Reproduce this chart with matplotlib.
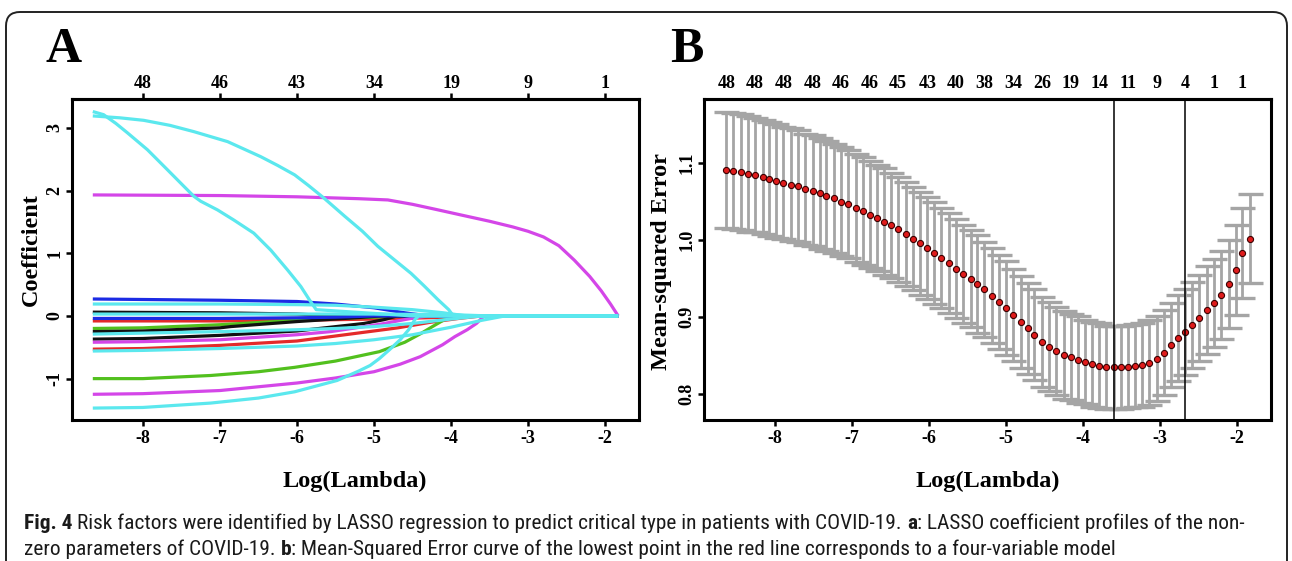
import numpy as np
import matplotlib
matplotlib.use("Agg")
import matplotlib.pyplot as plt
from matplotlib import font_manager
from matplotlib.patches import FancyBboxPatch

# ---------------- data ----------------
# Panel A: LASSO coefficient paths (log lambda knots, coefficient values)
cyan_steep_x = [-8.65, -8.51, -8.35, -8.20, -7.94, -7.68, -7.47, -7.34, -7.25, -7.03, -6.82, -6.56, -6.34, -6.12, -5.95, -5.84, -5.75, -5.5, -5.0, -4.5, -1.83]
cyan_steep_y = [3.26, 3.21, 3.07, 2.92, 2.65, 2.33, 2.07, 1.91, 1.83, 1.69, 1.53, 1.32, 1.05, 0.73, 0.47, 0.26, 0.10, 0.08, 0.04, 0.0, 0.0]
cyan_top_x = [-8.65, -8.3, -7.99, -7.65, -7.34, -6.90, -6.47, -6.25, -6.03, -5.85, -5.65, -5.38, -5.15, -4.95, -4.72, -4.52, -4.35, -4.17, -4.03, -3.97, -1.83]
cyan_top_y = [3.19, 3.16, 3.12, 3.04, 2.94, 2.78, 2.54, 2.40, 2.25, 2.08, 1.88, 1.59, 1.35, 1.11, 0.88, 0.68, 0.48, 0.26, 0.10, 0.0, 0.0]
magenta_top_x = [-8.65, -7.0, -6.0, -5.2, -4.82, -4.5, -4.2, -3.87, -3.5, -3.2, -3.0, -2.8, -2.6, -2.4, -2.2, -2.05, -1.93, -1.83]
magenta_top_y = [1.93, 1.92, 1.90, 1.87, 1.85, 1.78, 1.70, 1.61, 1.51, 1.42, 1.35, 1.26, 1.12, 0.89, 0.63, 0.40, 0.19, 0.0]
blue_a_x = [-8.65, -7.0, -6.0, -5.5, -5.0, -4.6, -4.3, -1.83]
blue_a_y = [0.27, 0.25, 0.23, 0.19, 0.13, 0.05, 0.0, 0.0]
cyan_b_x = [-8.65, -7.0, -6.0, -5.5, -5.0, -4.5, -4.1, -3.8, -1.83]
cyan_b_y = [0.19, 0.19, 0.18, 0.17, 0.14, 0.10, 0.05, 0.0, 0.0]
black_a_x = [-8.65, -7.0, -6.0, -5.5, -1.83]
black_a_y = [0.06, 0.05, 0.03, 0.0, 0.0]
cyan_c_x = [-8.65, -6.0, -5.0, -4.0, -3.5, -1.83]
cyan_c_y = [0.03, 0.03, 0.03, 0.02, 0.0, 0.0]
blue_b_x = [-8.65, -7.0, -6.0, -5.5, -5.0, -1.83]
blue_b_y = [-0.04, -0.04, -0.03, -0.02, 0.0, 0.0]
red_a_x = [-8.65, -7.0, -6.0, -5.0, -4.0, -3.7, -1.83]
red_a_y = [-0.08, -0.08, -0.07, -0.05, -0.02, 0.0, 0.0]
green_a_x = [-8.65, -8.0, -7.0, -6.0, -5.5, -5.0, -4.5, -1.83]
green_a_y = [-0.20, -0.19, -0.14, -0.07, -0.04, -0.02, 0.0, 0.0]
black_b_x = [-8.65, -8.0, -7.0, -6.86, -6.0, -5.13, -4.9, -1.83]
black_b_y = [-0.25, -0.24, -0.19, -0.17, -0.09, -0.02, 0.0, 0.0]
cyan_d_x = [-8.65, -7.0, -6.0, -5.5, -5.0, -4.5, -4.0, -3.6, -1.83]
cyan_d_y = [-0.29, -0.25, -0.22, -0.20, -0.17, -0.12, -0.05, 0.0, 0.0]
black_c_x = [-8.65, -8.0, -7.0, -6.86, -6.0, -5.13, -4.87, -4.7, -1.83]
black_c_y = [-0.37, -0.36, -0.31, -0.30, -0.24, -0.12, -0.06, 0.0, 0.0]
magenta_a_x = [-8.65, -8.0, -7.0, -6.0, -5.56, -4.91, -4.52, -4.3, -1.83]
magenta_a_y = [-0.42, -0.41, -0.38, -0.30, -0.25, -0.13, -0.04, 0.0, 0.0]
red_b_x = [-8.65, -8.0, -7.0, -6.86, -6.0, -5.56, -5.0, -4.69, -4.26, -3.9, -3.6, -1.83]
red_b_y = [-0.53, -0.52, -0.47, -0.46, -0.40, -0.33, -0.24, -0.19, -0.10, -0.04, 0.0, 0.0]
cyan_e_x = [-8.65, -8.0, -7.0, -6.0, -5.5, -5.0, -4.5, -4.0, -3.6, -3.3, -1.83]
cyan_e_y = [-0.56, -0.55, -0.52, -0.48, -0.44, -0.38, -0.30, -0.18, -0.07, 0.0, 0.0]
green_b_x = [-8.65, -8.0, -7.12, -6.5, -6.03, -5.5, -4.93, -4.6, -4.39, -4.2, -4.06, -3.98, -1.83]
green_b_y = [-1.00, -1.00, -0.95, -0.89, -0.82, -0.72, -0.57, -0.42, -0.28, -0.14, -0.04, 0.0, 0.0]
magenta_b_x = [-8.65, -8.0, -7.0, -6.5, -6.0, -5.5, -5.0, -4.66, -4.4, -4.11, -3.95, -3.79, -3.67, -3.57, -1.83]
magenta_b_y = [-1.25, -1.24, -1.19, -1.13, -1.07, -0.99, -0.89, -0.77, -0.65, -0.46, -0.33, -0.22, -0.12, 0.0, 0.0]
cyan_f_x = [-8.65, -8.0, -7.12, -6.5, -6.03, -5.48, -5.2, -5.05, -4.93, -4.8, -4.66, -4.55, -4.47, -4.42, -1.83]
cyan_f_y = [-1.47, -1.46, -1.39, -1.31, -1.21, -1.03, -0.88, -0.79, -0.68, -0.54, -0.38, -0.22, -0.06, 0.0, 0.0]

a_xticks = [-8, -7, -6, -5, -4, -3, -2]
a_yticks = [-1, 0, 1, 2, 3]
a_top_labels = ["48", "46", "43", "34", "19", "9", "1"]

# Panel B: cross-validated mean-squared error
log_lambda = [-8.63, -8.54, -8.44, -8.35, -8.26, -8.16, -8.07, -7.98, -7.89, -7.79,
              -7.70, -7.61, -7.51, -7.42, -7.33, -7.23, -7.14, -7.05, -6.95, -6.86,
              -6.77, -6.67, -6.58, -6.49, -6.40, -6.30, -6.21, -6.12, -6.02, -5.93,
              -5.84, -5.74, -5.65, -5.56, -5.46, -5.37, -5.28, -5.18, -5.09, -5.00,
              -4.91, -4.81, -4.72, -4.63, -4.53, -4.44, -4.35, -4.25, -4.16, -4.07,
              -3.97, -3.88, -3.79, -3.70, -3.60, -3.51, -3.42, -3.32, -3.23, -3.14,
              -3.04, -2.95, -2.86, -2.77, -2.67, -2.58, -2.49, -2.39, -2.30, -2.21,
              -2.11, -2.02, -1.93, -1.83]
mse = [1.091, 1.090, 1.088, 1.086, 1.084, 1.082, 1.079, 1.077, 1.074, 1.072,
       1.070, 1.066, 1.064, 1.061, 1.057, 1.054, 1.050, 1.047, 1.042, 1.038,
       1.033, 1.029, 1.024, 1.019, 1.014, 1.008, 1.002, 0.996, 0.990, 0.983,
       0.977, 0.970, 0.963, 0.956, 0.950, 0.943, 0.936, 0.928, 0.920, 0.912,
       0.903, 0.894, 0.886, 0.877, 0.868, 0.862, 0.856, 0.851, 0.848, 0.845,
       0.842, 0.839, 0.837, 0.835, 0.835, 0.835, 0.836, 0.837, 0.838, 0.841,
       0.846, 0.854, 0.864, 0.873, 0.881, 0.890, 0.899, 0.909, 0.919, 0.929,
       0.943, 0.961, 0.983, 1.002]
mse_sd = [0.075, 0.075, 0.075, 0.075, 0.074, 0.074, 0.074, 0.074, 0.073, 0.073,
          0.073, 0.072, 0.072, 0.072, 0.071, 0.071, 0.071, 0.070, 0.070, 0.070,
          0.069, 0.069, 0.069, 0.068, 0.068, 0.068, 0.067, 0.067, 0.066, 0.066,
          0.065, 0.065, 0.064, 0.064, 0.063, 0.063, 0.062, 0.062, 0.061, 0.061,
          0.060, 0.060, 0.059, 0.059, 0.058, 0.058, 0.057, 0.057, 0.056, 0.056,
          0.055, 0.055, 0.055, 0.054, 0.054, 0.054, 0.054, 0.054, 0.054, 0.055,
          0.055, 0.055, 0.055, 0.056, 0.056, 0.056, 0.056, 0.057, 0.057, 0.057,
          0.057, 0.058, 0.058, 0.058]
b_top_labels = ["48", "48", "48", "48", "46", "46", "45", "43", "40", "38",
                "34", "26", "19", "14", "11", "9", "4", "1", "1"]
lambda_min_idx = 54
lambda_1se_idx = 64
b_yticks = [0.8, 0.9, 1.0, 1.1]

# ---------------- style ----------------
W, H = 1292, 561
SERIF = "Liberation Serif"
avail = {f.name for f in font_manager.fontManager.ttflist}
if "Liberation Sans Narrow" in avail:
    CAPF = "Liberation Sans Narrow"
elif "Roboto Condensed" in avail:
    CAPF = "Roboto Condensed"
else:
    CAPF = "Roboto"

CY = "#5BE8EE"
MG = "#D446E8"
GR = "#52C01E"
BL = "#1B2BE4"
RD = "#E42A2A"
BK = "#111111"

fig = plt.figure(figsize=(W / 100, H / 100), dpi=100)
fig.patch.set_facecolor("white")


def fx(x):
    return x / W


def fy(y):
    return 1 - y / H


TICK_FS = 13
LAB_FS = 17.5


def style_axes(ax):
    for s in ax.spines.values():
        s.set_linewidth(2.2)
        s.set_color("black")
    ax.tick_params(axis="both", direction="out", length=4, width=1.8,
                   labelsize=TICK_FS, pad=3)
    for lab in ax.get_xticklabels() + ax.get_yticklabels():
        lab.set_fontfamily(SERIF)
        lab.set_fontweight("bold")


# ---------------- panel A ----------------
axA = fig.add_axes([fx(72), fy(420), (639 - 72) / W, (420 - 99) / H])
curves = [
    (black_a_x, black_a_y, BK), (red_a_x, red_a_y, RD), (green_a_x, green_a_y, GR),
    (black_b_x, black_b_y, BK), (black_c_x, black_c_y, BK), (red_b_x, red_b_y, RD),
    (green_b_x, green_b_y, GR), (magenta_a_x, magenta_a_y, MG),
    (magenta_b_x, magenta_b_y, MG), (magenta_top_x, magenta_top_y, MG),
    (blue_a_x, blue_a_y, BL), (blue_b_x, blue_b_y, BL),
    (cyan_d_x, cyan_d_y, CY), (cyan_e_x, cyan_e_y, CY), (cyan_f_x, cyan_f_y, CY),
    (cyan_b_x, cyan_b_y, CY), (cyan_steep_x, cyan_steep_y, CY),
    (cyan_top_x, cyan_top_y, CY), (cyan_c_x, cyan_c_y, CY),
]
for cx, cyv, col in curves:
    axA.plot(cx, cyv, color=col, lw=2.3, solid_joinstyle="round", solid_capstyle="butt")
axA.set_xlim(-8.92, -1.56)
axA.set_ylim(-1.66, 3.46)
axA.set_xticks(a_xticks)
axA.set_xticklabels([str(v) for v in a_xticks])
axA.set_yticks(a_yticks)
axA.set_yticklabels([str(v) for v in a_yticks])
style_axes(axA)
axA.tick_params(axis="y", labelrotation=90, pad=2)
for lab in axA.get_yticklabels():
    lab.set_va("center")
topA = axA.secondary_xaxis("top")
topA.set_xticks(a_xticks)
topA.set_xticklabels(a_top_labels)
topA.spines["top"].set_linewidth(2.2)
topA.tick_params(direction="out", length=4, width=1.8, labelsize=TICK_FS, pad=1)
for lab in topA.get_xticklabels():
    lab.set_fontfamily(SERIF)
    lab.set_fontweight("bold")

# ---------------- panel B ----------------
axB = fig.add_axes([fx(704), fy(420), (1271 - 704) / W, (420 - 99) / H])
axB.errorbar(log_lambda, mse, yerr=mse_sd, fmt="none", ecolor="#A5A5A5",
             elinewidth=2.0, capsize=9, capthick=2.4, zorder=2)
axB.plot(log_lambda, mse, linestyle="none", marker="o", markersize=4.4,
         markerfacecolor="#E01B1B", markeredgecolor="#3a0000", markeredgewidth=0.8,
         zorder=3)
axB.axvline(log_lambda[lambda_min_idx], color="black", lw=1.1, zorder=4)
axB.axvline(log_lambda[lambda_1se_idx], color="black", lw=1.1, zorder=4)
axB.set_xlim(-8.92, -1.56)
axB.set_ylim(0.7667, 1.183)
axB.set_xticks(a_xticks)
axB.set_xticklabels([str(v) for v in a_xticks])
axB.set_yticks(b_yticks)
axB.set_yticklabels(["%.1f" % v for v in b_yticks])
style_axes(axB)
axB.tick_params(axis="y", labelrotation=90, pad=2)
for lab in axB.get_yticklabels():
    lab.set_va("center")
topB = axB.secondary_xaxis("top")
topB.set_xticks(log_lambda[::4])
topB.set_xticklabels(b_top_labels)
topB.spines["top"].set_linewidth(2.2)
topB.tick_params(direction="out", length=0, labelsize=TICK_FS, pad=5)
for lab in topB.get_xticklabels():
    lab.set_fontfamily(SERIF)
    lab.set_fontweight("bold")

# ---------------- labels ----------------
fig.text(fx(355), fy(481), "Log(Lambda)", ha="center", va="center",
         fontsize=LAB_FS, fontweight="bold", family=SERIF)
fig.text(fx(988), fy(481), "Log(Lambda)", ha="center", va="center",
         fontsize=LAB_FS, fontweight="bold", family=SERIF)
fig.text(fx(31), fy(250), "Coefficient", ha="center", va="center", rotation=90,
         fontsize=LAB_FS, fontweight="bold", family=SERIF)
fig.text(fx(661), fy(262), "Mean-squared Error", ha="center", va="center", rotation=90,
         fontsize=LAB_FS, fontweight="bold", family=SERIF)
fig.text(fx(45), fy(62), "A", ha="left", va="baseline", fontsize=36,
         fontweight="bold", family=SERIF)
fig.text(fx(670), fy(62), "B", ha="left", va="baseline", fontsize=36,
         fontweight="bold", family=SERIF)

# ---------------- frame ----------------
frame = FancyBboxPatch((6, -40), 1281, 549 + 40, boxstyle="round,pad=0,rounding_size=14",
                       transform=None, facecolor="none", edgecolor="#222222",
                       linewidth=1.4, zorder=0)
fig.add_artist(frame)

# ---------------- caption ----------------
line1 = [("Fig. 4", True),
         ("Risk factors were identified by LASSO regression to predict critical type in patients with COVID-19.", False),
         ("a", True), (": LASSO coefficient profiles of the non-", False)]
line2 = [("zero parameters of COVID-19.", False), ("b", True),
         (": Mean-Squared Error curve of the lowest point in the red line corresponds to a four-variable model", False)]
renderer = fig.canvas.get_renderer()


def seg_width(segs, size):
    tot = 0
    for txt, bold in segs:
        t = fig.text(0, 0, txt, fontsize=size, fontweight="bold" if bold else "normal", family=CAPF)
        tot += t.get_window_extent(renderer=renderer).width
        t.remove()
    return tot


def space_w(size):
    t1 = fig.text(0, 0, "n n", fontsize=size, family=CAPF)
    t2 = fig.text(0, 0, "nn", fontsize=size, family=CAPF)
    w = t1.get_window_extent(renderer=renderer).width - t2.get_window_extent(renderer=renderer).width
    t1.remove()
    t2.remove()
    return w


def draw_line(segs, x0, ybase, size):
    x = x0
    sp = space_w(size)
    for i, (txt, bold) in enumerate(segs):
        if i > 0 and not txt.startswith(":"):
            x += sp
        t = fig.text(x / W, fy(ybase), txt, fontsize=size,
                     fontweight="bold" if bold else "normal", family=CAPF,
                     ha="left", va="baseline", color="#1a1a1a")
        x = t.get_window_extent(renderer=renderer).x1


base = 10.0
w10 = seg_width(line1, base) + 3 * space_w(base)
cap_size = base * (1240 - 24) / w10
draw_line(line1, 24, 529, cap_size)
draw_line(line2, 24, 555, cap_size)

fig.savefig("out.png", dpi=100, facecolor="white")
